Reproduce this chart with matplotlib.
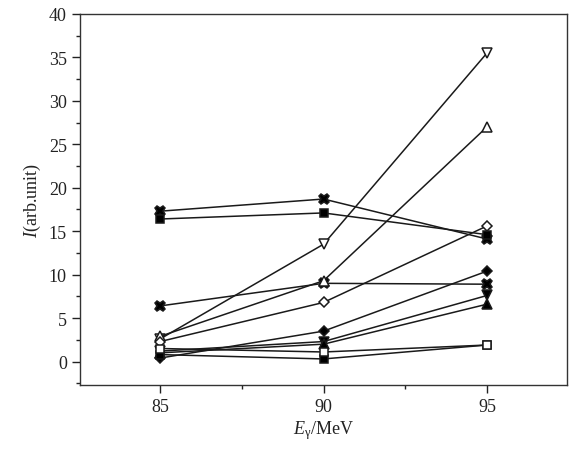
import matplotlib
matplotlib.use("Agg")
import matplotlib.pyplot as plt
from matplotlib.ticker import MultipleLocator

energies = [85, 90, 95]

s_star_top   = [17.3, 18.7, 14.1]
s_sq_top     = [16.4, 17.1, 14.6]
s_star_mid   = [6.4, 9.0, 8.9]
s_dtri_open  = [2.6, 13.5, 35.5]
s_utri_open  = [2.9, 9.3, 27.0]
s_diam_open  = [2.3, 6.8, 15.6]
s_diam_fill  = [0.4, 3.5, 10.4]
s_dtri_fill  = [1.2, 2.3, 7.6]
s_utri_fill  = [1.0, 2.0, 6.6]
s_sq_open    = [1.5, 1.1, 1.9]
s_sq_fill    = [0.8, 0.3, 1.9]

series = [
    (s_star_top, 'X', 'k'),
    (s_sq_top, 's', 'k'),
    (s_star_mid, 'X', 'k'),
    (s_dtri_open, 'v', 'w'),
    (s_utri_open, '^', 'w'),
    (s_diam_open, 'D', 'w'),
    (s_diam_fill, 'D', 'k'),
    (s_dtri_fill, 'v', 'k'),
    (s_utri_fill, '^', 'k'),
    (s_sq_fill, 's', 'k'),
    (s_sq_open, 's', 'w'),
]

plt.rcParams['font.family'] = ['Liberation Serif', 'DejaVu Serif']
plt.rcParams['mathtext.fontset'] = 'custom'
plt.rcParams['mathtext.rm'] = 'Liberation Serif'
plt.rcParams['mathtext.it'] = 'Liberation Serif:italic'

fig = plt.figure(figsize=(5.69, 4.52), dpi=100)
ax = fig.add_axes([0.1406, 0.146, 0.856, 0.821])

sizes = {'v': 7.5, '^': 7.5, 'D': 5.5, 's': 6.0, 'X': 7.5}
for vals, mk, fc in series:
    ax.plot(energies, vals, color='#1a1a1a', lw=1.1, marker=mk, ms=sizes[mk],
            mfc=fc, mec='#1a1a1a', mew=1.1)

ax.set_xlim(82.55, 97.45)
ax.set_ylim(-2.7, 40)
ax.xaxis.set_major_locator(MultipleLocator(5))
ax.xaxis.set_minor_locator(MultipleLocator(2.5))
ax.yaxis.set_major_locator(MultipleLocator(5))
ax.yaxis.set_minor_locator(MultipleLocator(2.5))
ax.tick_params(which='major', direction='out', length=6, width=1, labelsize=13,
               colors='#222222', right=False, top=False)
ax.tick_params(which='minor', direction='out', length=3, width=1,
               right=False, top=False, colors='#222222')
for sp in ax.spines.values():
    sp.set_color('#333333')
    sp.set_linewidth(1.0)

ax.set_ylabel(r'$I$(arb.unit)', fontsize=13, color='#222222', labelpad=4)
ax.set_xlabel(r'$E_{\mathrm{γ}}$/MeV', fontsize=13, color='#222222', labelpad=2)

fig.savefig('out.png', dpi=100)
